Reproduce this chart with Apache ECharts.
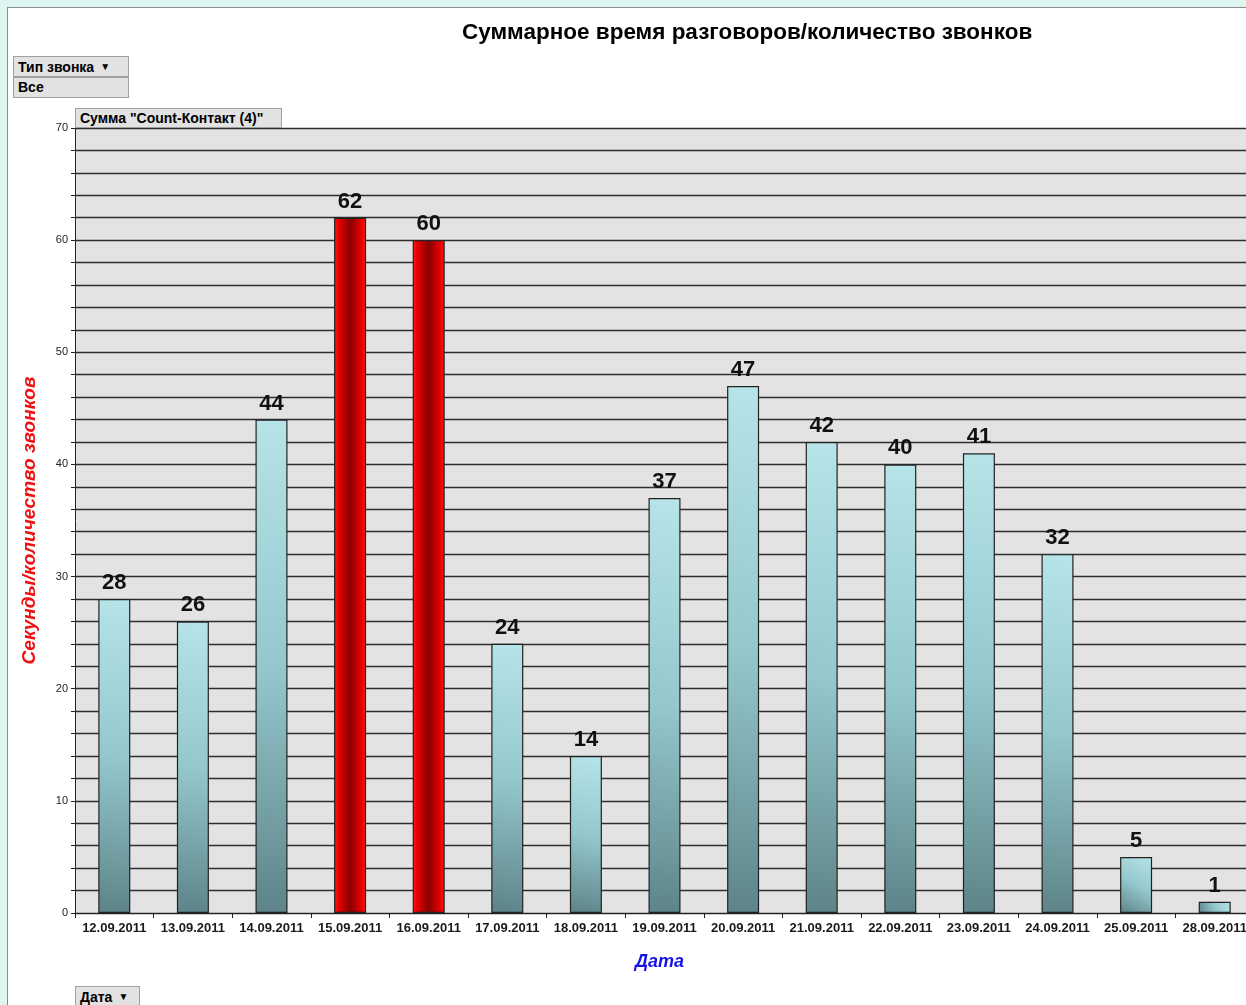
<!DOCTYPE html>
<html>
<head>
<meta charset="utf-8">
<script src="https://cdn.jsdelivr.net/npm/echarts@6/dist/echarts.min.js"></script>
<style>
  html, body { margin: 0; padding: 0; width: 1246px; height: 1005px; overflow: hidden; background: #dff5f1; }
  #frame { position: absolute; left: 7px; top: 7px; width: 1260px; height: 1020px; background: #fff; border: 1px solid #8c8c8c; }
  #chart { position: absolute; left: 0; top: 0; width: 1254px; height: 1005px; }
  .btn { position: absolute; background: #e2e2e2; border: 1px solid #a0a0a0; font: bold 14px "Liberation Sans", Arial, sans-serif; color: #000; padding: 0 4px; line-height: 19px; box-sizing: border-box; z-index: 5; white-space: nowrap; }
  .btn span { font-size: 10px; margin-left: 6px; vertical-align: 2px; }
</style>
</head>
<body>
<div id="frame"></div>
<div id="chart"></div>
<div class="btn" style="left:13px;top:56px;width:116px;height:21px;">Тип звонка<span>&#9660;</span></div>
<div class="btn" style="left:13px;top:77px;width:116px;height:21px;">Все</div>
<div class="btn" style="left:75px;top:108px;width:207px;height:20px;">Сумма "Count-Контакт (4)"</div>
<div class="btn" style="left:75px;top:986px;width:65px;height:22px;">Дата<span>&#9660;</span></div>
<script>
  const dates = ['12.09.2011', '13.09.2011', '14.09.2011', '15.09.2011', '16.09.2011', '17.09.2011', '18.09.2011',
    '19.09.2011', '20.09.2011', '21.09.2011', '22.09.2011', '23.09.2011', '24.09.2011', '25.09.2011', '28.09.2011']
  const counts = [28, 26, 44, 62, 60, 24, 14, 37, 47, 42, 40, 41, 32, 5, 1]
  const highlighted = ['15.09.2011', '16.09.2011']

  const tealFill = new echarts.graphic.LinearGradient(0, 1, 1, 0, [
    { offset: 0, color: '#5d8488' },
    { offset: 0.5, color: '#94c8cd' },
    { offset: 1, color: '#b6e4e8' }
  ])
  const redFill = new echarts.graphic.LinearGradient(0, 0, 1, 0, [
    { offset: 0, color: '#ff1a1a' },
    { offset: 0.15, color: '#e60000' },
    { offset: 0.5, color: '#880000' },
    { offset: 0.85, color: '#e60000' },
    { offset: 1, color: '#ff1a1a' }
  ])

  const myChart = echarts.init(document.getElementById('chart'))
  const option = {
    animation: false,
    title: {
      text: 'Суммарное время разговоров/количество звонков',
      left: 457,
      top: 16,
      textStyle: { fontFamily: 'Liberation Sans', fontWeight: 'bold', fontSize: 22.5, color: '#000' }
    },
    grid: {
      left: 75,
      top: 128,
      right: 0,
      bottom: 92,
      show: true,
      backgroundColor: '#e3e3e3',
      borderWidth: 0
    },
    xAxis: {
      type: 'category',
      data: dates,
      name: 'Дата',
      nameLocation: 'middle',
      nameGap: 40,
      nameTextStyle: { fontFamily: 'Liberation Sans', fontStyle: 'italic', fontWeight: 'bold', fontSize: 18, color: '#1414e6', padding: [0, 10, 0, 0] },
      axisLine: { lineStyle: { color: '#222', width: 1 } },
      axisTick: { show: true, interval: 0, length: 5, lineStyle: { color: '#222' } },
      axisLabel: { interval: 0, margin: 9, fontFamily: 'Liberation Sans', fontWeight: 'bold', fontSize: 13, color: '#1a1a1a' }
    },
    yAxis: {
      type: 'value',
      min: 0,
      max: 70,
      interval: 2,
      name: 'Секунды/количество звонков',
      nameLocation: 'middle',
      nameGap: 36,
      nameTextStyle: { fontFamily: 'Liberation Sans', fontStyle: 'italic', fontWeight: 'bold', fontSize: 19, color: '#ee1111' },
      axisLine: { show: true, lineStyle: { color: '#222', width: 1 } },
      axisTick: { show: true, length: 4, lineStyle: { color: '#222' } },
      axisLabel: {
        margin: 7,
        fontFamily: 'Liberation Sans',
        fontSize: 11,
        color: '#222',
        formatter: v => (v % 10 === 0 ? String(v) : '')
      },
      splitLine: { show: true, lineStyle: { color: '#2e2e2e', width: 1.4 } }
    },
    series: [{
      type: 'bar',
      barWidth: 32,
      data: counts.map((v, i) => ({
        value: v,
        itemStyle: { color: highlighted.includes(dates[i]) ? redFill : tealFill }
      })),
      itemStyle: { borderColor: '#222', borderWidth: 1.2 },
      label: {
        show: true,
        position: 'top',
        distance: 5,
        fontFamily: 'Liberation Sans',
        fontWeight: 'bold',
        fontSize: 22,
        color: '#111'
      }
    }]
  }
  myChart.setOption(option)
</script>
</body>
</html>
